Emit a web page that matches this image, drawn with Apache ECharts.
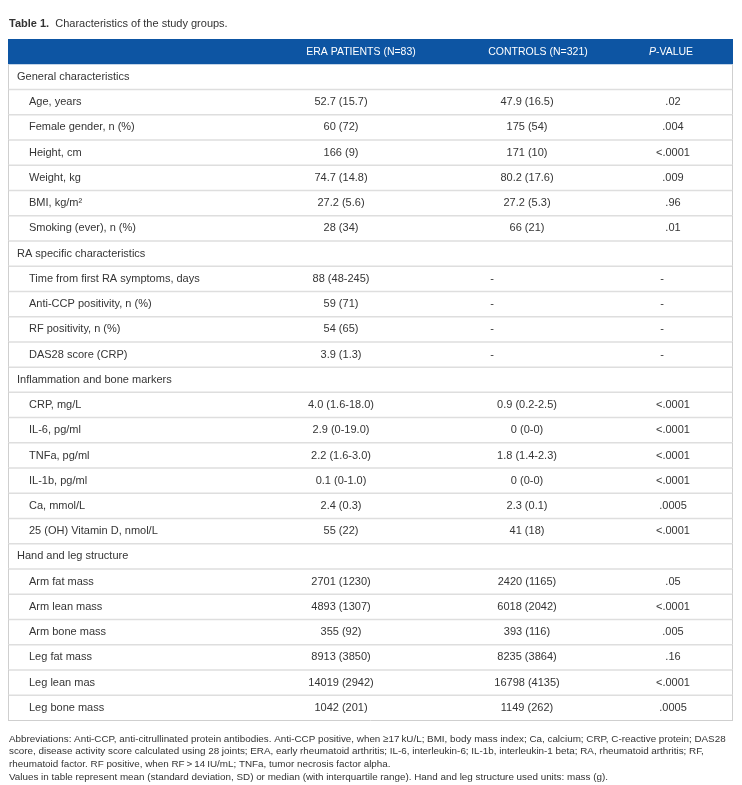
<!DOCTYPE html>
<html>
<head>
<meta charset="utf-8">
<script src="https://cdn.jsdelivr.net/npm/echarts@6/dist/echarts.min.js"></script>
<style>html,body{margin:0;padding:0;background:#fff;}#c{width:742px;height:785px;}</style>
</head>
<body>
<div id="c"></div>
<script>
// ---- data ----
const headers = ['', 'ERA PATIENTS (N=83)', 'CONTROLS (N=321)', 'P-VALUE'];
const groups = ['General characteristics', 'RA specific characteristics', 'Inflammation and bone markers', 'Hand and leg structure'];
const rowGroup = [0,0,0,0,0,0, 1,1,1,1, 2,2,2,2,2,2, 3,3,3,3,3,3];
const rowLabels = [
  'Age, years', 'Female gender, n (%)', 'Height, cm', 'Weight, kg', 'BMI, kg/m\u00b2', 'Smoking (ever), n (%)',
  'Time from first RA symptoms, days', 'Anti-CCP positivity, n (%)', 'RF positivity, n (%)', 'DAS28 score (CRP)',
  'CRP, mg/L', 'IL-6, pg/ml', 'TNFa, pg/ml', 'IL-1b, pg/ml', 'Ca, mmol/L', '25 (OH) Vitamin D, nmol/L',
  'Arm fat mass', 'Arm lean mass', 'Arm bone mass', 'Leg fat mass', 'Leg lean mas', 'Leg bone mass'
];
const eraValues = [
  '52.7 (15.7)', '60 (72)', '166 (9)', '74.7 (14.8)', '27.2 (5.6)', '28 (34)',
  '88 (48-245)', '59 (71)', '54 (65)', '3.9 (1.3)',
  '4.0 (1.6-18.0)', '2.9 (0-19.0)', '2.2 (1.6-3.0)', '0.1 (0-1.0)', '2.4 (0.3)', '55 (22)',
  '2701 (1230)', '4893 (1307)', '355 (92)', '8913 (3850)', '14019 (2942)', '1042 (201)'
];
const controlValues = [
  '47.9 (16.5)', '175 (54)', '171 (10)', '80.2 (17.6)', '27.2 (5.3)', '66 (21)',
  '-', '-', '-', '-',
  '0.9 (0.2-2.5)', '0 (0-0)', '1.8 (1.4-2.3)', '0 (0-0)', '2.3 (0.1)', '41 (18)',
  '2420 (1165)', '6018 (2042)', '393 (116)', '8235 (3864)', '16798 (4135)', '1149 (262)'
];
const pValues = [
  '.02', '.004', '<.0001', '.009', '.96', '.01',
  '-', '-', '-', '-',
  '<.0001', '<.0001', '<.0001', '<.0001', '.0005', '<.0001',
  '.05', '<.0001', '.005', '.16', '<.0001', '.0005'
];
const titleText = 'Characteristics of the study groups.';
const footnotes = [
  'Abbreviations: Anti-CCP, anti-citrullinated protein antibodies. Anti-CCP positive, when \u226517\u2009kU/L; BMI, body mass index; Ca, calcium; CRP, C-reactive protein; DAS28',
  'score, disease activity score calculated using 28 joints; ERA, early rheumatoid arthritis; IL-6, interleukin-6; IL-1b, interleukin-1 beta; RA, rheumatoid arthritis; RF,',
  'rheumatoid factor. RF positive, when RF\u2009>\u200914\u2009IU/mL; TNFa, tumor necrosis factor alpha.',
  'Values in table represent mean (standard deviation, SD) or median (with interquartile range). Hand and leg structure used units: mass (g).'
];

// ---- build rows ----
const rows = [{type: 'header'}];
let lastG = -1;
rowLabels.forEach((lab, i) => {
  if (rowGroup[i] !== lastG) { rows.push({type: 'group', label: groups[rowGroup[i]]}); lastG = rowGroup[i]; }
  rows.push({type: 'item', label: lab, era: eraValues[i], ctrl: controlValues[i], p: pValues[i]});
});

// ---- layout (x positions in grid units = px from table left) ----
const COL = {group: 9, item: 21, era: 333, ctrl: 519, p: 665, hEra: 353, hCtrl: 530, hP: 663};
const DASH_SHIFT = {ctrl: -35, p: -11};
const FONT = 'Liberation Sans, Arial, Helvetica, sans-serif';
const TXT = '#353535';
const HEAD = '#0d55a3';

const chart = echarts.init(document.getElementById('c'), null, {renderer: 'canvas'});

function txt(x, y, text, align, extra) {
  return {type: 'text', x: x, y: y, style: Object.assign({text: text, fill: TXT, fontSize: 11, fontFamily: FONT, align: align, verticalAlign: 'middle'}, extra || {})};
}

chart.setOption({
  backgroundColor: '#fff',
  animation: false,
  title: [
    {left: 9, top: 17, padding: 0, text: '{b|Table 1.}  ' + titleText,
     textStyle: {fontSize: 11, fontWeight: 'normal', color: '#333', fontFamily: FONT, lineHeight: 13,
       rich: {b: {fontSize: 11, fontWeight: 'bold', color: '#333', fontFamily: FONT, lineHeight: 13}}}},
    {left: 9, top: 732.5, padding: 0, text: footnotes.join('\n'),
     textStyle: {fontSize: 9.85, fontWeight: 'normal', color: '#333', fontFamily: FONT, lineHeight: 12.8}}
  ],
  grid: {left: 8, right: 9, top: 39, bottom: 64.5},
  xAxis: {type: 'value', min: 0, max: 725, show: false},
  yAxis: {type: 'category', inverse: true, show: false, data: rows.map((r, i) => String(i))},
  series: [{
    type: 'custom',
    coordinateSystem: 'cartesian2d',
    data: rows.map((r, i) => [0, i]),
    encode: {x: 0, y: 1},
    renderItem: function (params, api) {
      const i = params.dataIndex;
      const r = rows[i];
      const cy = api.coord([0, i])[1];
      const h = api.size([0, 1])[1];
      const top = cy - h / 2;
      const cs = params.coordSys;
      const X = v => api.coord([v, i])[0];
      const ch = [];
      if (r.type === 'header') {
        ch.push({type: 'rect', shape: {x: cs.x, y: top, width: cs.width, height: h}, style: {fill: HEAD}});
        const w = {fill: '#fff', fontSize: 10.5};
        ch.push(txt(X(COL.hEra), cy, headers[1], 'center', w));
        ch.push(txt(X(COL.hCtrl), cy, headers[2], 'center', w));
        ch.push(txt(X(COL.hP), cy, '{i|P}-VALUE', 'center', {fill: '#fff', fontSize: 10.5, rich: {i: {fontStyle: 'italic', fill: '#fff', fontSize: 10.5, fontFamily: FONT}}}));
      } else {
        ch.push({type: 'line', shape: {x1: cs.x + 0.5, y1: top, x2: cs.x + 0.5, y2: top + h}, style: {stroke: '#cfcfcf', lineWidth: 1}});
        ch.push({type: 'line', shape: {x1: cs.x + cs.width - 0.5, y1: top, x2: cs.x + cs.width - 0.5, y2: top + h}, style: {stroke: '#cfcfcf', lineWidth: 1}});
        const last = i === rows.length - 1;
        ch.push({type: 'line', shape: {x1: cs.x, y1: top + h, x2: cs.x + cs.width, y2: top + h}, style: {stroke: last ? '#cfcfcf' : '#dedede', lineWidth: last ? 1 : 1.5}});
        if (r.type === 'group') {
          ch.push(txt(X(COL.group), cy, r.label, 'left'));
        } else {
          ch.push(txt(X(COL.item), cy, r.label, 'left'));
          ch.push(txt(X(COL.era), cy, r.era, 'center'));
          ch.push(txt(X(COL.ctrl + (r.ctrl === '-' ? DASH_SHIFT.ctrl : 0)), cy, r.ctrl, 'center'));
          ch.push(txt(X(COL.p + (r.p === '-' ? DASH_SHIFT.p : 0)), cy, r.p, 'center'));
        }
      }
      return {type: 'group', children: ch};
    }
  }]
});
</script>
</body>
</html>
